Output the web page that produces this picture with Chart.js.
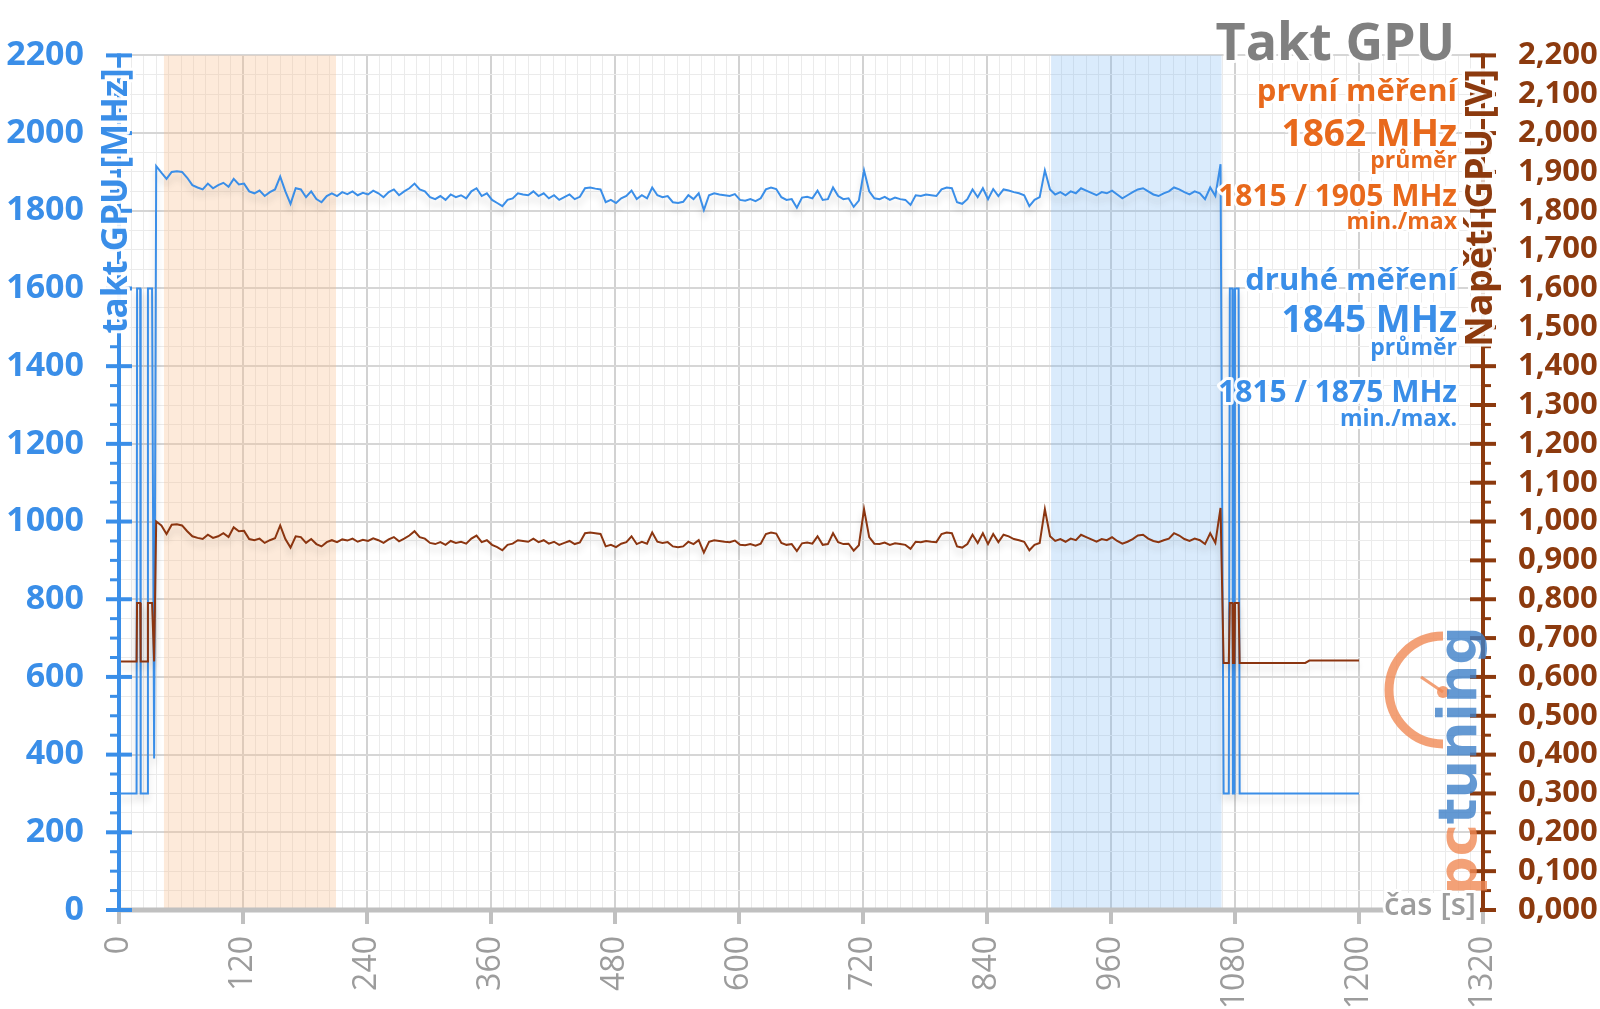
<!DOCTYPE html>
<html>
<head>
<meta charset="utf-8">
<script src="https://cdn.jsdelivr.net/npm/chart.js@4.4.0/dist/chart.umd.min.js"></script>
<style>
  html, body { margin: 0; padding: 0; background: #fff; }
  canvas { display: block; }
</style>
</head>
<body>
<canvas id="taktChart" width="1600" height="1009"></canvas>
<script>
// start of the run (idle -> load)
var startTimes = [0, 17, 17.5, 20.5, 21, 27.5, 28, 32, 34];
var startClock = [300, 300, 1600, 1600, 300, 300, 1600, 1600, 390];
var startVolt  = [0.640, 0.640, 0.790, 0.790, 0.640, 0.640, 0.790, 0.790, 0.640];

// load part, one sample every 5 s from 36 s
var LOAD_START = 36;
var LOAD_STEP = 5;
var loadClock = [
  1915, 1898, 1882, 1900, 1902, 1900, 1885, 1866, 1860, 1855, 1870, 1858,
  1866, 1872, 1862, 1882, 1868, 1870, 1850, 1845, 1852, 1838, 1848, 1855,
  1888, 1850, 1818, 1858, 1855, 1835, 1850, 1830, 1822, 1838, 1845, 1838,
  1848, 1843, 1850, 1840, 1846, 1842, 1852, 1845, 1835, 1848, 1855, 1840,
  1850, 1858, 1870, 1855, 1850, 1835, 1830, 1838, 1828, 1842, 1835, 1840,
  1832, 1850, 1858, 1838, 1845, 1828, 1820, 1812, 1828, 1832, 1845, 1842,
  1840, 1850, 1838, 1845, 1832, 1840, 1828, 1835, 1842, 1830, 1836, 1858,
  1860, 1857, 1855, 1822, 1828, 1820, 1832, 1838, 1852, 1830, 1840, 1832,
  1860, 1840, 1835, 1838, 1822, 1820, 1823, 1840, 1830, 1845, 1802, 1840,
  1845, 1842, 1840, 1838, 1843, 1828, 1826, 1830, 1825, 1832, 1855, 1860,
  1856, 1835, 1828, 1830, 1808, 1834, 1836, 1832, 1852, 1828, 1830, 1860,
  1838, 1830, 1832, 1810, 1826, 1904, 1850, 1832, 1830, 1836, 1828, 1834,
  1830, 1828, 1815, 1840, 1838, 1842, 1840, 1838, 1855, 1860, 1858, 1822,
  1818, 1830, 1855, 1835, 1858, 1830, 1856, 1838, 1855, 1852, 1848, 1845,
  1840, 1812, 1828, 1835, 1904, 1855, 1842, 1848, 1840, 1850, 1845, 1858,
  1852, 1846, 1840, 1848, 1845, 1852, 1842, 1832, 1840, 1848, 1855, 1858,
  1850, 1842, 1838, 1845, 1850, 1860, 1855, 1848, 1842, 1850, 1845, 1830,
  1860, 1838, 1920
];
var loadVolt = [
  1.000, 0.990, 0.968, 0.992, 0.993, 0.990, 0.975, 0.962, 0.958, 0.955, 0.966, 0.958,
  0.962, 0.970, 0.960, 0.985, 0.975, 0.976, 0.955, 0.952, 0.956, 0.945, 0.952, 0.957,
  0.990, 0.955, 0.933, 0.962, 0.960, 0.945, 0.955, 0.942, 0.936, 0.947, 0.952, 0.947,
  0.954, 0.951, 0.956, 0.948, 0.953, 0.950, 0.957, 0.952, 0.945, 0.954, 0.960, 0.949,
  0.956, 0.964, 0.975, 0.960, 0.956, 0.945, 0.942, 0.947, 0.940, 0.950, 0.945, 0.948,
  0.943, 0.956, 0.964, 0.947, 0.952, 0.940, 0.934, 0.926, 0.940, 0.943, 0.952, 0.950,
  0.948, 0.956, 0.947, 0.952, 0.943, 0.948, 0.940, 0.945, 0.950, 0.942, 0.946, 0.970,
  0.972, 0.970, 0.968, 0.936, 0.940, 0.934, 0.943, 0.947, 0.962, 0.942, 0.948, 0.943,
  0.972, 0.948, 0.945, 0.947, 0.936, 0.934, 0.936, 0.948, 0.942, 0.952, 0.920, 0.948,
  0.952, 0.950, 0.948, 0.947, 0.951, 0.940, 0.939, 0.942, 0.938, 0.943, 0.968, 0.972,
  0.969, 0.945, 0.940, 0.942, 0.924, 0.944, 0.946, 0.943, 0.962, 0.940, 0.942, 0.970,
  0.947, 0.942, 0.943, 0.925, 0.939, 1.032, 0.960, 0.943, 0.942, 0.946, 0.940, 0.944,
  0.942, 0.940, 0.930, 0.948, 0.947, 0.950, 0.948, 0.947, 0.968, 0.972, 0.970, 0.936,
  0.933, 0.942, 0.966, 0.945, 0.970, 0.942, 0.968, 0.947, 0.966, 0.962, 0.955, 0.952,
  0.948, 0.926, 0.940, 0.945, 1.032, 0.962, 0.950, 0.955, 0.948, 0.956, 0.952, 0.966,
  0.960, 0.954, 0.948, 0.955, 0.952, 0.960, 0.950, 0.943, 0.948, 0.955, 0.964, 0.966,
  0.956, 0.950, 0.947, 0.952, 0.956, 0.970, 0.964, 0.955, 0.950, 0.956, 0.952, 0.942,
  0.970, 0.945, 1.035
];

// end of the run (load -> idle)
var endTimes = [1069, 1074, 1075, 1077.5, 1078, 1079.5, 1080, 1083.5, 1084.5, 1148, 1152, 1200];
var endClock = [300, 300, 1600, 1600, 300, 300, 1600, 1600, 300, 300, 300, 300];
var endVolt  = [0.636, 0.636, 0.790, 0.790, 0.636, 0.636, 0.790, 0.790, 0.636, 0.636, 0.642, 0.642];

// highlighted measuring windows [s]
var bandFrom = [43.5, 902];
var bandTo   = [210, 1067];

var xTicks = [0, 120, 240, 360, 480, 600, 720, 840, 960, 1080, 1200, 1320];

var BLUE = '#3a8ee8';
var BROWN = '#8c3a0e';
var ORANGE = '#e8691c';
var GREY = '#9d9d9d';

function toPoints(times, vals) {
  return vals.map(function (v, i) { return { x: times[i], y: v }; });
}
var loadTimes = loadClock.map(function (c, i) { return LOAD_START + i * LOAD_STEP; });
var clockPts = toPoints(startTimes, startClock).concat(toPoints(loadTimes, loadClock), toPoints(endTimes, endClock));
var voltPts = toPoints(startTimes, startVolt).concat(toPoints(loadTimes, loadVolt), toPoints(endTimes, endVolt));

function haloText(ctx, s, x, y, font, color, align) {
  ctx.font = font;
  ctx.textAlign = align || 'right';
  ctx.textBaseline = 'middle';
  ctx.lineJoin = 'round';
  ctx.strokeStyle = 'rgba(255,255,255,0.95)';
  ctx.lineWidth = 6;
  ctx.strokeText(s, x, y);
  ctx.fillStyle = color;
  ctx.fillText(s, x, y);
}

var decor = {
  id: 'decor',
  beforeDatasetsDraw: function (chart) {
    var ctx = chart.ctx, a = chart.chartArea, x = chart.scales.x;
    var colors = ['rgba(248,190,140,0.32)', 'rgba(120,180,245,0.27)'];
    ctx.save();
    bandFrom.forEach(function (f, i) {
      var x0 = x.getPixelForValue(f), x1 = x.getPixelForValue(bandTo[i]);
      ctx.fillStyle = colors[i];
      ctx.fillRect(x0, a.top, x1 - x0, a.bottom - a.top);
    });
    ctx.restore();
  },
  beforeDatasetDraw: function (chart) {
    var ctx = chart.ctx;
    ctx.save();
    ctx.shadowColor = 'rgba(0,0,0,0.16)';
    ctx.shadowBlur = 7;
    ctx.shadowOffsetY = 6;
  },
  afterDatasetDraw: function (chart) {
    chart.ctx.restore();
  },
  afterDraw: function (chart) {
    var ctx = chart.ctx, a = chart.chartArea;
    var x = chart.scales.x, y = chart.scales.y, y1 = chart.scales.y1;
    ctx.save();
    ctx.lineCap = 'butt';

    // bottom axis
    ctx.strokeStyle = '#c0c0c0';
    ctx.lineWidth = 5;
    ctx.beginPath(); ctx.moveTo(a.left, a.bottom); ctx.lineTo(a.right, a.bottom); ctx.stroke();
    ctx.lineWidth = 4;
    xTicks.forEach(function (t) {
      var px = x.getPixelForValue(t);
      ctx.beginPath(); ctx.moveTo(px, a.bottom); ctx.lineTo(px, a.bottom + 14); ctx.stroke();
    });

    // left axis
    ctx.strokeStyle = BLUE;
    ctx.lineWidth = 4;
    ctx.beginPath(); ctx.moveTo(a.left, a.top - 2); ctx.lineTo(a.left, a.bottom + 2); ctx.stroke();
    for (var v = 0; v <= 2200; v += 50) {
      var py = y.getPixelForValue(v);
      ctx.lineWidth = v % 200 === 0 ? 4 : 3;
      ctx.beginPath();
      if (v % 200 === 0) { ctx.moveTo(a.left - 13, py); ctx.lineTo(a.left + 13, py); }
      else { ctx.moveTo(a.left - 9, py); ctx.lineTo(a.left, py); }
      ctx.stroke();
    }

    // right axis
    ctx.strokeStyle = BROWN;
    ctx.lineWidth = 4;
    ctx.beginPath(); ctx.moveTo(a.right, a.top - 2); ctx.lineTo(a.right, a.bottom + 2); ctx.stroke();
    for (var k = 0; k <= 44; k++) {
      var pv = y1.getPixelForValue(k * 0.05);
      ctx.lineWidth = k % 2 === 0 ? 4 : 3;
      ctx.beginPath();
      if (k % 2 === 0) { ctx.moveTo(a.right - 13, pv); ctx.lineTo(a.right + 13, pv); }
      else { ctx.moveTo(a.right, pv); ctx.lineTo(a.right + 8, pv); }
      ctx.stroke();
    }

    // pctuning watermark
    ctx.globalAlpha = 0.8;
    ctx.strokeStyle = '#f08a55';
    ctx.lineWidth = 9;
    ctx.beginPath(); ctx.arc(1443, 690, 54, Math.PI * 0.5, Math.PI * 1.5); ctx.stroke();
    ctx.lineWidth = 3;
    ctx.beginPath(); ctx.moveTo(1443, 692); ctx.lineTo(1421, 677); ctx.stroke();
    ctx.fillStyle = '#f08a55';
    ctx.beginPath(); ctx.arc(1443, 692, 6, 0, Math.PI * 2); ctx.fill();
    ctx.save();
    ctx.translate(1462, 895);
    ctx.rotate(-Math.PI / 2);
    ctx.font = 'bold 54px "DejaVu Sans"';
    ctx.textAlign = 'left';
    ctx.textBaseline = 'middle';
    ctx.fillStyle = '#f08a55';
    ctx.fillText('pc', 0, 0);
    var pcw = ctx.measureText('pc').width;
    ctx.fillStyle = '#3d7fc8';
    ctx.fillText('tuning', pcw, 0);
    ctx.restore();
    ctx.globalAlpha = 1;

    // axis titles
    ctx.save();
    ctx.translate(117, 201);
    ctx.rotate(-Math.PI / 2);
    haloText(ctx, 'takt GPU [MHz]', 0, 0, 'bold 35px "Open Sans"', BLUE, 'center');
    ctx.restore();
    ctx.save();
    ctx.translate(1481, 208);
    ctx.rotate(-Math.PI / 2);
    haloText(ctx, 'Napětí GPU [V]', 0, 0, 'bold 38px "Open Sans"', BROWN, 'center');
    ctx.restore();

    ctx.fillStyle = '#fff';
    ctx.fillRect(1384, 893, 96, 32);
    haloText(ctx, 'čas [s]', 1430, 906, '600 31px "Open Sans"', GREY, 'center');

    // title and summary
    haloText(ctx, 'Takt GPU', 1455, 45, 'bold 52px "Open Sans"', '#808080');
    haloText(ctx, 'první měření', 1457, 92, 'bold 31px "Open Sans"', ORANGE);
    haloText(ctx, '1862 MHz', 1457, 135, 'bold 37px "Open Sans"', ORANGE);
    haloText(ctx, 'průměr', 1457, 161, 'bold 23px "Open Sans"', ORANGE);
    haloText(ctx, '1815 / 1905 MHz', 1457, 197, 'bold 30px "Open Sans"', ORANGE);
    haloText(ctx, 'min./max', 1457, 222, 'bold 23px "Open Sans"', ORANGE);
    haloText(ctx, 'druhé měření', 1457, 281, 'bold 31px "Open Sans"', BLUE);
    haloText(ctx, '1845 MHz', 1457, 321, 'bold 37px "Open Sans"', BLUE);
    haloText(ctx, 'průměr', 1457, 348, 'bold 23px "Open Sans"', BLUE);
    haloText(ctx, '1815 / 1875 MHz', 1457, 393, 'bold 30px "Open Sans"', BLUE);
    haloText(ctx, 'min./max.', 1457, 419, 'bold 23px "Open Sans"', BLUE);
    ctx.restore();
  }
};

var ctx = document.getElementById('taktChart').getContext('2d');
var chart = new Chart(ctx, {
  type: 'line',
  data: {
    datasets: [
      { label: 'Napětí GPU', data: voltPts, yAxisID: 'y1', borderColor: '#8b3510', borderWidth: 2, pointRadius: 0, tension: 0, order: 0 },
      { label: 'takt GPU', data: clockPts, yAxisID: 'y', borderColor: BLUE, borderWidth: 2, pointRadius: 0, tension: 0, order: 1 }
    ]
  },
  options: {
    responsive: false,
    animation: false,
    devicePixelRatio: 1,
    layout: { padding: { top: 55, left: 0, right: 0, bottom: 0 } },
    plugins: { legend: { display: false }, tooltip: { enabled: false } },
    scales: {
      x: {
        type: 'linear', min: 0, max: 1320,
        afterFit: function (s) { s.height = 99; },
        border: { display: false },
        grid: {
          drawTicks: false,
          color: function (c) { return c.tick && c.tick.value % 120 === 0 ? '#d2d2d2' : '#ebebeb'; },
          lineWidth: function (c) { return c.tick && c.tick.value % 120 === 0 ? 2 : 1; }
        },
        ticks: {
          stepSize: 12, autoSkip: false, maxTicksLimit: 1000,
          minRotation: 90, maxRotation: 90, padding: 26,
          color: '#9c9c9c', font: { family: 'Open Sans', size: 32 },
          callback: function (v) { return v % 120 === 0 ? String(v) : ''; }
        }
      },
      y: {
        position: 'left', min: 0, max: 2200,
        afterFit: function (s) { s.width = 119; },
        border: { display: false },
        grid: {
          drawTicks: false,
          color: function (c) { return c.tick && c.tick.value % 200 === 0 ? '#d6d6d6' : '#ebebeb'; },
          lineWidth: function (c) { return c.tick && c.tick.value % 200 === 0 ? 2 : 1; }
        },
        ticks: {
          stepSize: 50, autoSkip: false, maxTicksLimit: 1000, padding: 35,
          color: BLUE, font: { family: 'Open Sans', size: 34, weight: 'bold' },
          callback: function (v) { return v % 200 === 0 ? String(v) : ''; }
        }
      },
      y1: {
        position: 'right', min: 0, max: 2.2,
        afterFit: function (s) { s.width = 117; },
        border: { display: false },
        grid: { drawOnChartArea: false, drawTicks: false },
        ticks: {
          stepSize: 0.05, autoSkip: false, maxTicksLimit: 1000, padding: 35,
          color: BROWN, font: { family: 'Open Sans', size: 31, weight: 'bold' },
          callback: function (v) {
            var m = Math.round(v * 1000);
            return m % 100 === 0 ? (m / 1000).toFixed(3).replace('.', ',') : '';
          }
        }
      }
    }
  },
  plugins: [decor]
});
</script>
</body>
</html>
